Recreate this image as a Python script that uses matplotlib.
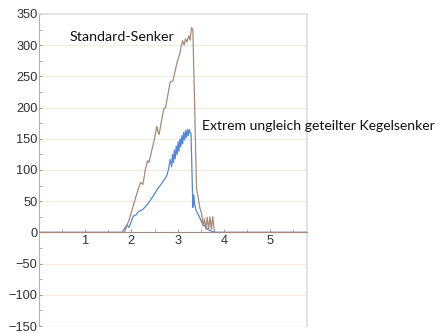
# Kraftverlauf zweier Senker

import matplotlib
matplotlib.use('Agg')
import matplotlib.pyplot as plt
from matplotlib.ticker import MultipleLocator

# Standard-Senker (braun)
std_x = [0, 1.85, 1.95, 2.05, 2.15, 2.2, 2.25, 2.3, 2.35, 2.38, 2.43, 2.5, 2.55, 2.58, 2.6,
         2.65, 2.7, 2.74, 2.8, 2.84, 2.9, 2.95, 2.99, 3.02, 3.05, 3.08, 3.11, 3.14, 3.17, 3.2,
         3.24, 3.27, 3.3, 3.33, 3.35, 3.37, 3.39, 3.41, 3.44, 3.48, 3.52, 3.55, 3.58, 3.61,
         3.64, 3.67, 3.7, 3.73, 3.76, 3.79, 3.81, 5.8]
std_y = [0, 0, 20, 45, 70, 80, 77, 100, 115, 112, 128, 150, 170, 160, 157,
         178, 198, 200, 225, 241, 243, 260, 273, 280, 287, 300, 307, 300, 310, 305,
         315, 308, 328, 325, 260, 200, 130, 70, 58, 40, 30, 10, 22, 5,
         24, 5, 25, 5, 25, 5, 0, 0]

# Extrem ungleich geteilter Kegelsenker (blau)
keg_x = [0, 1.8, 1.9, 1.95, 2.04, 2.1, 2.15, 2.25, 2.35, 2.47, 2.55, 2.65, 2.76, 2.8, 2.84,
         2.87, 2.89, 2.91, 2.93, 2.95, 2.97, 2.99, 3.01, 3.03, 3.05, 3.07, 3.09, 3.11, 3.13,
         3.15, 3.17, 3.19, 3.21, 3.23, 3.25, 3.27, 3.29, 3.31, 3.33, 3.35, 3.37, 3.4, 3.45,
         3.5, 3.55, 3.6, 3.65, 3.7, 3.81, 5.8]
keg_y = [0, 0, 12, 8, 26, 28, 33, 37, 45, 58, 68, 78, 90, 100, 117,
         105, 125, 112, 132, 118, 138, 125, 145, 130, 150, 137, 155, 142, 160,
         148, 163, 152, 165, 155, 165, 160, 158, 100, 40, 60, 45, 35, 28,
         20, 12, 10, 5, 3, 0, 0]

y_ticks = [-150, -100, -50, 0, 50, 100, 150, 200, 250, 300, 350]
x_ticks = [1, 2, 3, 4, 5]

fig = plt.figure(figsize=(4.39, 3.33), dpi=100)
ax = fig.add_axes([0.0888, 0.021, 0.6105, 0.937])

for y in y_ticks:
    if y not in (0, -150, 350):
        ax.axhline(y, color='#f6eadf', lw=0.8, zorder=0)
ax.axhline(-150, color='#dddddd', lw=1.0, zorder=0)

ax.plot(keg_x, keg_y, color='#5287d8', lw=0.9, zorder=3)
ax.plot(std_x, std_y, color='#a88a7a', lw=0.9, zorder=4)

ax.set_xlim(0, 5.8)
ax.set_ylim(-150, 350)

ax.spines['bottom'].set_position(('data', 0))
ax.spines['bottom'].set_color('#9a9088')
ax.spines['left'].set_color('#b0b0b0')
ax.spines['top'].set_color('#dddddd')
ax.spines['right'].set_color('#dddddd')
ax.spines['top'].set_linewidth(1.2)
ax.spines['right'].set_linewidth(1.2)

ax.set_yticks(y_ticks)
ax.set_xticks(x_ticks)
ax.xaxis.set_minor_locator(MultipleLocator(0.5))
ax.yaxis.set_minor_locator(MultipleLocator(25))
ax.tick_params(axis='both', which='both', direction='in', length=2, color='#a0a0a0',
               labelsize=9.2, labelcolor='#303030')
ax.tick_params(axis='y', pad=1)
ax.tick_params(axis='x', pad=2)
for lab in ax.get_xticklabels() + ax.get_yticklabels():
    lab.set_family('Liberation Sans')

ax.text(0.67, 313, 'Standard-Senker', fontsize=10.3, family='Lato', va='center', color='#111111')
ax.text(3.53, 170, 'Extrem ungleich geteilter Kegelsenker', fontsize=10.1, family='Lato',
        va='center', color='#111111', clip_on=False)

plt.savefig('out.png', dpi=100)
